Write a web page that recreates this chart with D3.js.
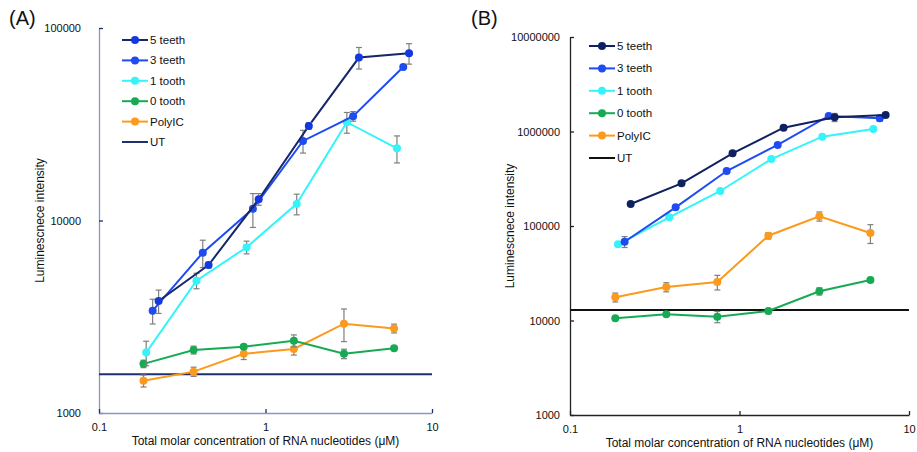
<!DOCTYPE html>
<html>
<head>
<meta charset="utf-8">
<script src="https://cdn.jsdelivr.net/npm/d3@7"></script>
<style>
  body { margin: 0; background: #fff; }
  svg { font-family: "Liberation Sans", Arial, sans-serif; }
</style>
</head>
<body>
<svg id="chart" width="917" height="452"></svg>
<script>
// legend entries
const seriesNames = ["5 teeth", "3 teeth", "1 tooth", "0 tooth", "PolyIC", "UT"];

// x positions (µM) used by each construct
const conc5 = [0.228, 0.455, 0.91, 1.82, 3.64, 7.28];
const conc3 = [0.21, 0.42, 0.84, 1.68, 3.36, 6.72];
const conc1 = [0.192, 0.385, 0.77, 1.54, 3.08, 6.16];
const conc0 = [0.185, 0.37, 0.74, 1.48, 2.96, 5.92];

// panel A values + SD
const a5 = [3820, 5870, 12900, 31000, 70200, 73900];
const a5err = [530, 200, 900, 1200, 9000, 9000];
const a3 = [3400, 6800, 11500, 25900, 34800, 62700];
const a3err = [500, 1100, 2300, 3500, 2000, 800];
const a1 = [2060, 4870, 7260, 12200, 32400, 23700];
const a1err = [300, 450, 550, 1500, 4000, 3800];
const a0 = [1800, 2125, 2210, 2375, 2030, 2170];
const a0err = [80, 100, 50, 170, 115, 30];
const aPoly = [1470, 1640, 2030, 2150, 2910, 2750];
const aPolyErr = [105, 90, 135, 150, 560, 145];
const aUT = 1590;

// panel B values + SD
const b5 = [171000, 283000, 587000, 1097000, 1413000, 1495000];
const b5err = [0, 0, 0, 0, 140000, 0];
const b3 = [68200, 157700, 382000, 720000, 1459000, 1380000];
const b3err = [9000, 0, 0, 30000, 0, 100000];
const b1 = [64000, 123600, 234600, 511000, 881000, 1063000];
const b1err = [0, 0, 0, 0, 0, 30000];
const b0 = [10550, 11630, 10970, 12610, 20380, 26830];
const b0err = [300, 600, 1500, 800, 1800, 800];
const bPoly = [17610, 22600, 25540, 78900, 126700, 84300];
const bPolyErr = [1900, 2500, 4500, 6000, 14000, 19000];
const bUT = 12900;

const yTicksA = [1000, 10000, 100000];
const yTicksB = [1000, 10000, 100000, 1000000, 10000000];
const xTicks = [0.1, 1, 10];

const svg = d3.select("#chart");

function zip(xs, ys, es) {
    return xs.map((x, i) => ({x: x, y: ys[i], e: es[i]}));
}

function drawPanel(opt) {
    const g = svg.append("g");

    const x = d3.scaleLog().domain([0.1, 10]).range(opt.xr);
    const y = d3.scaleLog().domain(opt.yd).range(opt.yr);

    // axes, ticks pointing inwards
    const yAxis = g.append("g")
        .attr("transform", `translate(${opt.xr[0]},0)`)
        .call(d3.axisLeft(y).tickValues(opt.yTicks).tickFormat(d => d)
            .tickSizeInner(-4).tickSizeOuter(0).tickPadding(opt.yPad));
    const xAxis = g.append("g")
        .attr("transform", `translate(0,${opt.yr[0]})`)
        .call(d3.axisBottom(x).tickValues(xTicks).tickFormat(d => d)
            .tickSizeInner(-4).tickSizeOuter(0).tickPadding(10));

    [yAxis, xAxis].forEach(ax => {
        ax.select(".domain").attr("stroke", opt.axisColor).attr("stroke-width", 1.3);
        ax.selectAll(".tick line").attr("stroke", opt.tickColor).attr("stroke-width", 1.3);
        ax.selectAll(".tick text").attr("fill", "#111").style("font-size", "11px");
    });

    // UT baseline
    g.append("line")
        .attr("x1", opt.xr[0]).attr("x2", opt.xr[1])
        .attr("y1", y(opt.ut)).attr("y2", y(opt.ut))
        .attr("stroke", opt.utColor).attr("stroke-width", 2);

    const line = d3.line().x(d => x(d.x)).y(d => y(d.y));

    // draw bottom series first
    opt.series.slice().reverse().forEach(s => {
        const pts = zip(s.xs, s.ys, s.es);

        g.append("path")
            .datum(pts)
            .attr("fill", "none")
            .attr("stroke", s.line)
            .attr("stroke-width", 2)
            .attr("d", line);

        const bars = g.append("g").selectAll("g")
            .data(pts.filter(d => d.e > 0))
            .enter().append("g")
            .attr("stroke", "#7f7f7f")
            .attr("stroke-width", 1.2);
        bars.append("line")
            .attr("x1", d => x(d.x)).attr("x2", d => x(d.x))
            .attr("y1", d => y(d.y + d.e)).attr("y2", d => y(Math.max(d.y - d.e, 1)));
        bars.append("line")
            .attr("x1", d => x(d.x) - 3).attr("x2", d => x(d.x) + 3)
            .attr("y1", d => y(d.y + d.e)).attr("y2", d => y(d.y + d.e));
        bars.append("line")
            .attr("x1", d => x(d.x) - 3).attr("x2", d => x(d.x) + 3)
            .attr("y1", d => y(d.y - d.e)).attr("y2", d => y(d.y - d.e));

        g.append("g").selectAll("circle")
            .data(pts)
            .enter().append("circle")
            .attr("cx", d => x(d.x))
            .attr("cy", d => y(d.y))
            .attr("r", 4)
            .attr("fill", s.marker);
    });

    // legend
    const leg = g.append("g")
        .attr("transform", `translate(${opt.leg[0]},${opt.leg[1]})`);
    const legRows = opt.series.concat([{name: "UT", line: opt.utColor}]);
    legRows.forEach((s, i) => {
        const row = leg.append("g").attr("transform", `translate(0,${i * opt.legStep})`);
        row.append("line")
            .attr("x1", 0).attr("x2", 26)
            .attr("stroke", s.line).attr("stroke-width", 2);
        if (s.marker) {
            row.append("circle").attr("cx", 13).attr("r", 4).attr("fill", s.marker);
        }
        row.append("text")
            .attr("x", 28).attr("dy", "0.35em")
            .style("font-size", "11.5px")
            .attr("fill", "#111")
            .text(s.name);
    });

    // titles
    g.append("text")
        .attr("transform", `translate(${opt.yLabelX},${(opt.yr[0] + opt.yr[1]) / 2}) rotate(-90)`)
        .attr("text-anchor", "middle")
        .style("font-size", "12px")
        .attr("fill", "#111")
        .text("Luminescnece intensity");

    g.append("text")
        .attr("x", (opt.xr[0] + opt.xr[1]) / 2)
        .attr("y", opt.yr[0] + 32)
        .attr("text-anchor", "middle")
        .style("font-size", "12px")
        .attr("fill", "#111")
        .text("Total molar concentration of RNA nucleotides (\u03bcM)");

    g.append("text")
        .attr("x", opt.tag[0]).attr("y", opt.tag[1])
        .style("font-size", "20px")
        .attr("fill", "#111")
        .text(opt.tagText);
}

drawPanel({
    xr: [99, 432], yr: [413, 28], yd: [1000, 100000], yTicks: yTicksA, yPad: 18,
    axisColor: "#8a97c4", tickColor: "#1f2f6e", ut: aUT, utColor: "#1f2f73",
    leg: [122, 40], legStep: 20.4, yLabelX: 44, tag: [9, 25], tagText: "(A)",
    series: [
        {name: seriesNames[0], xs: conc5, ys: a5, es: a5err, line: "#16276a", marker: "#1438df"},
        {name: seriesNames[1], xs: conc3, ys: a3, es: a3err, line: "#1f4bf2", marker: "#1f4bf2"},
        {name: seriesNames[2], xs: conc1, ys: a1, es: a1err, line: "#33f4fb", marker: "#33f4fb"},
        {name: seriesNames[3], xs: conc0, ys: a0, es: a0err, line: "#17aa55", marker: "#17aa55"},
        {name: seriesNames[4], xs: conc0, ys: aPoly, es: aPolyErr, line: "#fb9a1c", marker: "#fb9a1c"}
    ]
});

drawPanel({
    xr: [570, 909], yr: [415, 37], yd: [1000, 10000000], yTicks: yTicksB, yPad: 10,
    axisColor: "#222", tickColor: "#222", ut: bUT, utColor: "#111",
    leg: [589, 46], legStep: 22.4, yLabelX: 514, tag: [471, 25], tagText: "(B)",
    series: [
        {name: seriesNames[0], xs: conc5, ys: b5, es: b5err, line: "#0f2160", marker: "#0f2160"},
        {name: seriesNames[1], xs: conc3, ys: b3, es: b3err, line: "#1f4bf2", marker: "#1f4bf2"},
        {name: seriesNames[2], xs: conc1, ys: b1, es: b1err, line: "#33f4fb", marker: "#33f4fb"},
        {name: seriesNames[3], xs: conc0, ys: b0, es: b0err, line: "#17aa55", marker: "#17aa55"},
        {name: seriesNames[4], xs: conc0, ys: bPoly, es: bPolyErr, line: "#fb9a1c", marker: "#fb9a1c"}
    ]
});
</script>
</body>
</html>
